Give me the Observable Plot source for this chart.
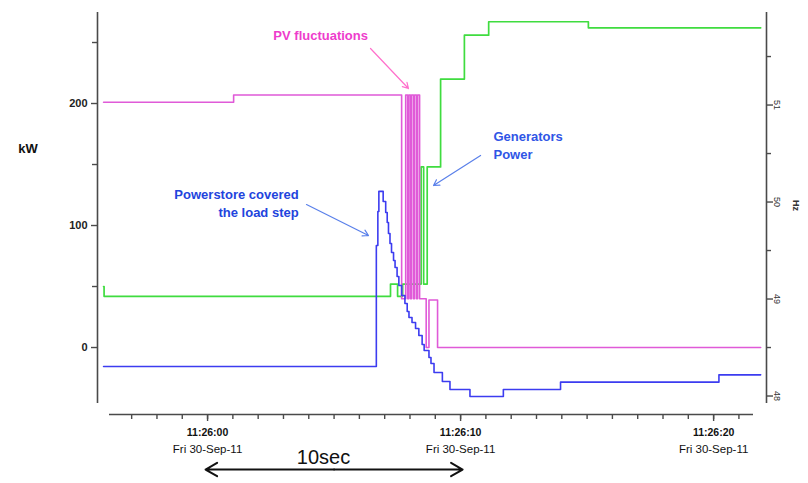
<!DOCTYPE html>
<html>
<head>
<meta charset="utf-8">
<script src="https://cdn.jsdelivr.net/npm/d3@7"></script>
<script src="https://cdn.jsdelivr.net/npm/@observablehq/plot@0.6"></script>
<style>
  html, body { margin: 0; padding: 0; background: #fff; }
  #chart svg { display: block; }
</style>
</head>
<body>
<div id="chart"></div>
<script>
// Time in seconds relative to 11:26:00 (Fri 30-Sep-11), values in kW (step-after)
const pvTime = [-4.11, 1.03, 7.67, 7.83, 7.91, 7.95, 8.02, 8.06, 8.14, 8.18, 8.26, 8.30, 8.38, 8.64, 8.75, 9.09, 21.86];
const pvKw   = [201, 207, 40, 207, 40, 207, 40, 207, 40, 207, 40, 207, 40, 0, 39, 0, 0];

const genTime = [-4.11, -4.09, 7.23, 7.51, 7.71, 8.44, 8.54, 8.68, 9.21, 10.15, 11.11, 15.05, 21.86];
const genKw   = [50, 42, 52, 42, 52, 148, 52, 148, 220, 256, 267, 262, 262];

const storeTime = [-4.11, 6.67, 6.73, 6.77, 6.94, 7.04, 7.10, 7.15, 7.21, 7.27, 7.35, 7.41, 7.49, 7.56, 7.67, 7.80, 7.89, 7.96, 8.08, 8.22, 8.35, 8.48, 8.56, 8.75, 8.83, 8.95, 9.28, 9.58, 10.37, 11.69, 13.95, 20.21, 21.86];
const storeKw   = [-15.5, 83.6, 111.5, 128, 119.7, 110.7, 102.5, 93.4, 85.2, 77.9, 71.3, 65.6, 58.2, 50.8, 42.6, 36.1, 29.5, 24.6, 20.5, 15.6, 9.8, 2.5, -2.5, -8.2, -13.1, -20.5, -27.9, -34.4, -40.2, -34.4, -28.4, -22.4, -22.4];

// Tick values and labels
const xMajorTicks = [0, 10, 20];
const xMinorTicks = d3.range(-3, 22);
const kwMajorTicks = [0, 100, 200];
const kwMinorTicks = [50, 150, 250];
const hzMajorTicks = [48, 49, 50, 51];
const hzMinorTicks = [48.5, 49.5, 50.5, 51.5];
const dateLabel = "Fri 30-Sep-11";
const baseTime = Date.UTC(2011, 8, 30, 11, 26, 0);

// Annotation texts
const pvNote = "PV fluctuations";
const genNote = "Generators\nPower";
const storeNote = "Powerstore covered\nthe load step";
const spanNote = "10sec";

const rows = (ts, vs) => ts.map((t, i) => ({t, v: vs[i]}));
const pv = rows(pvTime, pvKw);
const gen = rows(genTime, genKw);
const store = rows(storeTime, storeKw);

const xDomain = [-4.35, 22.09];
const yDomain = [-54.9, 274.6];

// Right axis (Hz) is a secondary scale aligned onto the kW scale
const hzToKw = h => (h - 48.5) * 79.5;
const kwToHz = k => Math.round(k / 79.5 + 48.5);
const fmtTime = s => d3.utcFormat("%H:%M:%S")(new Date(baseTime + s * 1000));

const axisColor = "#4a4a4a";
const font = "'Liberation Sans', Arial, Helvetica, sans-serif";

const chart = Plot.plot({
  width: 808,
  height: 483,
  marginLeft: 97,
  marginRight: 42,
  marginTop: 12,
  marginBottom: 69,
  style: {fontFamily: font, background: "#fff", color: "#222", overflow: "visible"},
  x: {domain: xDomain, axis: null, label: null},
  y: {domain: yDomain, axis: null, label: null},
  marks: [
    // axis lines
    Plot.ruleX([xDomain[0], xDomain[1]], {stroke: axisColor, strokeWidth: 1.6, insetBottom: 11}),
    Plot.ruleY([yDomain[0]], {stroke: axisColor, strokeWidth: 1.6, insetLeft: 12, insetRight: 13}),

    // left axis (kW)
    Plot.axisY(kwMajorTicks, {anchor: "left", tickSize: 6, tickPadding: 4, fontSize: 11, fontWeight: "bold", color: axisColor, fill: "#222", strokeWidth: 1.4, label: null}),
    Plot.axisY(kwMinorTicks, {anchor: "left", tickSize: 5, tickFormat: () => "", color: axisColor, strokeWidth: 1.4, label: null}),

    // right axis (Hz)
    Plot.axisY(hzMajorTicks.map(hzToKw), {anchor: "right", tickSize: 6, tickPadding: 8, tickRotate: 90, tickFormat: kwToHz, fontSize: 9, color: axisColor, fill: "#333", strokeWidth: 1.4, label: null}),
    Plot.axisY(hzMinorTicks.map(hzToKw), {anchor: "right", tickSize: 4, tickFormat: () => "", color: axisColor, strokeWidth: 1.4, label: null}),

    // bottom axis (time)
    Plot.axisX(xMinorTicks, {anchor: "bottom", tickSize: 5, tickFormat: () => "", color: axisColor, strokeWidth: 1.4, label: null}),
    Plot.axisX(xMajorTicks, {anchor: "bottom", tickSize: 7, tickPadding: 7, tickFormat: fmtTime, fontSize: 10.5, fontWeight: "bold", color: axisColor, fill: "#111", strokeWidth: 1.4, label: null}),
    Plot.axisX(xMajorTicks, {anchor: "bottom", tickSize: 0, tickPadding: 30, tickFormat: () => dateLabel, fontSize: 11.5, color: axisColor, fill: "#111", label: null}),

    // axis titles
    Plot.text(["kW"], {x: -7.1, y: 163, fontSize: 13, fontWeight: "bold", fill: "#111"}),
    Plot.text(["Hz"], {x: 23.24, y: 116.4, rotate: 90, fontSize: 9, fontWeight: "bold", fill: "#333"}),

    // series
    Plot.line(gen, {x: "t", y: "v", curve: "step-after", stroke: "#3fdc3f", strokeWidth: 1.7}),
    Plot.line(pv, {x: "t", y: "v", curve: "step-after", stroke: "#e05ad8", strokeWidth: 1.6}),
    Plot.line(store, {x: "t", y: "v", curve: "step-after", stroke: "#3c3cf0", strokeWidth: 1.6}),

    // annotations
    Plot.text([pvNote], {x: 4.47, y: 255.7, fontSize: 13, fontWeight: "bold", fill: "#ee3ccc"}),
    Plot.arrow([0], {x1: 6.44, y1: 245.1, x2: 7.94, y2: 212.3, stroke: "#ff70cc", strokeWidth: 1.2, headLength: 8}),

    Plot.text([genNote], {x: 11.30, y: 166.4, textAnchor: "start", lineHeight: 1.4, fontSize: 13, fontWeight: "bold", fill: "#2f55e6"}),
    Plot.arrow([0], {x1: 10.79, y1: 157.4, x2: 8.93, y2: 132.8, stroke: "#5a80ea", strokeWidth: 1.2, headLength: 8}),

    Plot.text([storeNote], {x: 3.60, y: 118.9, textAnchor: "end", lineHeight: 1.4, fontSize: 13, fontWeight: "bold", fill: "#2244dd"}),
    Plot.arrow([0], {x1: 3.91, y1: 117.2, x2: 6.36, y2: 91.8, stroke: "#5a80ea", strokeWidth: 1.2, headLength: 8}),

    // 10 sec span marker
    Plot.text([spanNote], {x: 4.58, y: -90.2, fontSize: 20, fill: "#111"}),
    Plot.arrow([0], {x1: 5, y1: -100, x2: -0.08, y2: -100, stroke: "#111", strokeWidth: 2, headLength: 10}),
    Plot.arrow([0], {x1: 5, y1: -100, x2: 10.08, y2: -100, stroke: "#111", strokeWidth: 2, headLength: 10})
  ]
});

document.getElementById("chart").appendChild(chart);
</script>
</body>
</html>
